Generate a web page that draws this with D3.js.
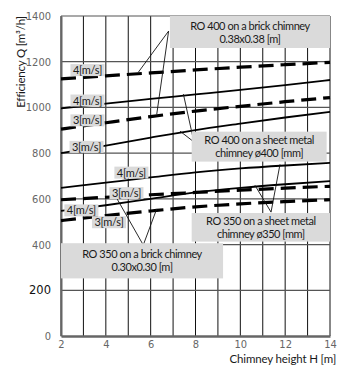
<!DOCTYPE html>
<html>
<head>
<meta charset="utf-8">
<script src="https://cdn.jsdelivr.net/npm/d3@7"></script>
<style>
  body { margin: 0; background: #fff; }
  svg { display: block; }
  text { font-family: Lato, "Noto Sans", sans-serif; }
</style>
</head>
<body>
<svg id="chart" width="345" height="369"></svg>
<script>
// Chimney heights H [m] at which the curves are tabulated
const heights = [2, 4, 6, 8, 10, 12, 14];

// Efficiency Q [m³/h] for each fan / chimney / flue-speed combination
const ro400Brick4 = [1125, 1138, 1151, 1164, 1176, 1187, 1197];
const ro400Sheet4 = [996, 1017, 1037, 1057, 1077, 1098, 1120];
const ro400Brick3 = [905, 933, 960, 984, 1005, 1025, 1043];
const ro400Sheet3 = [800, 833, 868, 901, 929, 956, 981];
const ro350Sheet4 = [648, 671, 694, 716, 733, 746, 757];
const ro350Brick4 = [596, 607, 618, 628, 638, 647, 655];
const ro350Sheet3 = [547, 572, 600, 628, 648, 664, 678];
const ro350Brick3 = [505, 527, 547, 565, 578, 588, 596];

// Axis ticks
const xTicks = [2, 4, 6, 8, 10, 12, 14];
const yTicks = [0, 200, 400, 600, 800, 1000, 1200, 1400];
const xGrid = d3.range(2, 15, 1);

// Text
const speedLabels = ["4[m/s]", "3[m/s]"];
const xTitle = "Chimney height H [m]";
const yTitle = "Efficiency Q [m³/h]";
const calloutText = [
  ["RO 400 on a brick chimney", "0.38x0.38 [m]"],
  ["RO 400 on a sheet metal", "chimney ø400 [mm]"],
  ["RO 350 on a sheet metal", "chimney ø350 [mm]"],
  ["RO 350 on a brick chimney", "0.30x0.30 [m]"]
];

const svg = d3.select("#chart");
const x = d3.scaleLinear().domain([2, 14]).range([61, 330]);
const y = d3.scaleLinear().domain([0, 1400]).range([336, 16]);

// series table: brick chimneys are dashed, sheet metal solid
const series = [
  { id: "b4", values: ro400Brick4, dashed: true,  label: speedLabels[0], lx: 3.18, ldy: -7 },
  { id: "s4", values: ro400Sheet4, dashed: false, label: speedLabels[0], lx: 3.18, ldy: -5 },
  { id: "b3", values: ro400Brick3, dashed: true,  label: speedLabels[1], lx: 3.18, ldy: -5 },
  { id: "s3", values: ro400Sheet3, dashed: false, label: speedLabels[1], lx: 3.14, ldy: -2 },
  { id: "t4", values: ro350Sheet4, dashed: false, label: speedLabels[0], lx: 5.14, ldy: -7 },
  { id: "c4", values: ro350Brick4, dashed: true,  label: speedLabels[1], lx: 4.92, ldy: -3 },
  { id: "t3", values: ro350Sheet3, dashed: false, label: speedLabels[0], lx: 2.91, ldy: 2 },
  { id: "c3", values: ro350Brick3, dashed: true,  label: speedLabels[1], lx: 4.14, ldy: 7 }
];
const byId = Object.fromEntries(series.map(s => [s.id, s]));
const valueAt = (s, h) => d3.scaleLinear().domain(heights).range(s.values)(h);

// grid
const grid = svg.append("g");
grid.selectAll("line.v").data(xGrid).join("line")
  .attr("x1", d => x(d)).attr("x2", d => x(d))
  .attr("y1", y(1400)).attr("y2", y(0))
  .attr("stroke", "#111").attr("stroke-width", 1);
grid.selectAll("line.h").data(yTicks.filter(v => v > 0)).join("line")
  .attr("x1", x(2)).attr("x2", x(14))
  .attr("y1", d => y(d)).attr("y2", d => y(d))
  .attr("stroke", "#555").attr("stroke-width", 1.2);

// axes
const yAxis = svg.append("g").attr("transform", `translate(${x(2)},0)`)
  .call(d3.axisLeft(y).tickValues(yTicks).tickFormat(d3.format("d")).tickSize(0).tickPadding(10));
yAxis.select(".domain").attr("stroke", "#666").attr("stroke-width", 2);
yAxis.selectAll("text")
  .attr("fill", d => d === 200 ? "#111" : "#666")
  .style("font-family", d => d === 200 ? "'DejaVu Sans', sans-serif" : "'Liberation Sans Narrow', 'DejaVu Sans Condensed', sans-serif")
  .style("font-size", d => d === 200 ? "11.5px" : "11px");

const xAxis = svg.append("g").attr("transform", `translate(0,${y(0)})`)
  .call(d3.axisBottom(x).tickValues(xTicks).tickSize(0).tickPadding(4));
xAxis.select(".domain").attr("stroke", "#666").attr("stroke-width", 2.5);
xAxis.selectAll("text").attr("fill", "#666")
  .style("font-family", "'Liberation Sans Narrow', 'DejaVu Sans Condensed', sans-serif")
  .style("font-size", "11px");

svg.append("text").attr("x", 336).attr("y", 362.5).attr("text-anchor", "end")
  .attr("fill", "#1a1a1a").style("font-size", "11.5px").style("letter-spacing", "-0.15px")
  .text(xTitle);
svg.append("text").attr("transform", "translate(25,62) rotate(-90)")
  .attr("text-anchor", "middle").attr("fill", "#1a1a1a")
  .style("font-size", "11.5px").style("letter-spacing", "-0.2px")
  .text(yTitle);

// curves
const line = d3.line().x((d, i) => x(heights[i])).y(d => y(d)).curve(d3.curveMonotoneX);
svg.append("g").selectAll("path").data(series).join("path")
  .attr("d", d => line(d.values))
  .attr("fill", "none").attr("stroke", "#000")
  .attr("stroke-width", d => d.dashed ? 3.2 : 1.8)
  .attr("stroke-dasharray", d => d.dashed ? "15,7" : null);

// callout leaders: apex at the box, ends on the curves
const leaders = [
  { ax: 6.80, av: 1334, ends: [["b4", 5.45], ["b3", 6.27]] },
  { ax: 7.93, av: 849,  ends: [["s4", 7.46], ["s3", 7.31]] },
  { ax: 11.37, av: 542, ends: [["t3", 10.65], ["t4", 11.77]] },
  { ax: 5.67, av: 398,  ends: [["c4", 4.41], ["c3", 6.27]] }
];
const lg = svg.append("g");
leaders.forEach(l => l.ends.forEach(([id, h]) => {
  lg.append("line")
    .attr("x1", x(l.ax)).attr("y1", y(l.av))
    .attr("x2", x(h)).attr("y2", y(valueAt(byId[id], h)) - 1.5)
    .attr("stroke", "#111").attr("stroke-width", 0.9);
}));

// callout boxes (data-space extents)
const boxes = [
  { x0: 6.86, x1: 14,    v0: 1260, v1: 1400 },
  { x0: 7.83, x1: 13.85, v0: 763,  v1: 894 },
  { x0: 7.83, x1: 14,    v0: 413,  v1: 538 },
  { x0: 2,    x1: 9.23,  v0: 252,  v1: 406 }
];
const bg = svg.append("g");
boxes.forEach((b, i) => {
  bg.append("rect")
    .attr("x", x(b.x0)).attr("y", y(b.v1))
    .attr("width", x(b.x1) - x(b.x0)).attr("height", y(b.v0) - y(b.v1))
    .attr("fill", "#dadada");
  const cx = (x(b.x0) + x(b.x1)) / 2, cy = (y(b.v0) + y(b.v1)) / 2;
  bg.append("text").attr("x", cx).attr("y", cy - 2.5).attr("text-anchor", "middle")
    .attr("fill", "#1a1a1a").style("font-size", "11px").style("letter-spacing", "-0.45px")
    .text(calloutText[i][0]);
  bg.append("text").attr("x", cx).attr("y", cy + 10.5).attr("text-anchor", "middle")
    .attr("fill", "#1a1a1a").style("font-size", "11px").style("letter-spacing", "-0.45px")
    .text(calloutText[i][1]);
});

// speed labels sitting on the curves
const tg = svg.append("g");
series.forEach(s => {
  const cx = x(s.lx), cy = y(valueAt(s, s.lx)) + s.ldy;
  tg.append("rect").attr("x", cx - 17).attr("y", cy - 6).attr("width", 34).attr("height", 12)
    .attr("fill", "#dadada");
  tg.append("text").attr("x", cx).attr("y", cy + 4).attr("text-anchor", "middle")
    .attr("fill", "#1a1a1a").style("font-size", "11px").style("letter-spacing", "-0.3px")
    .text(s.label);
});
</script>
</body>
</html>
